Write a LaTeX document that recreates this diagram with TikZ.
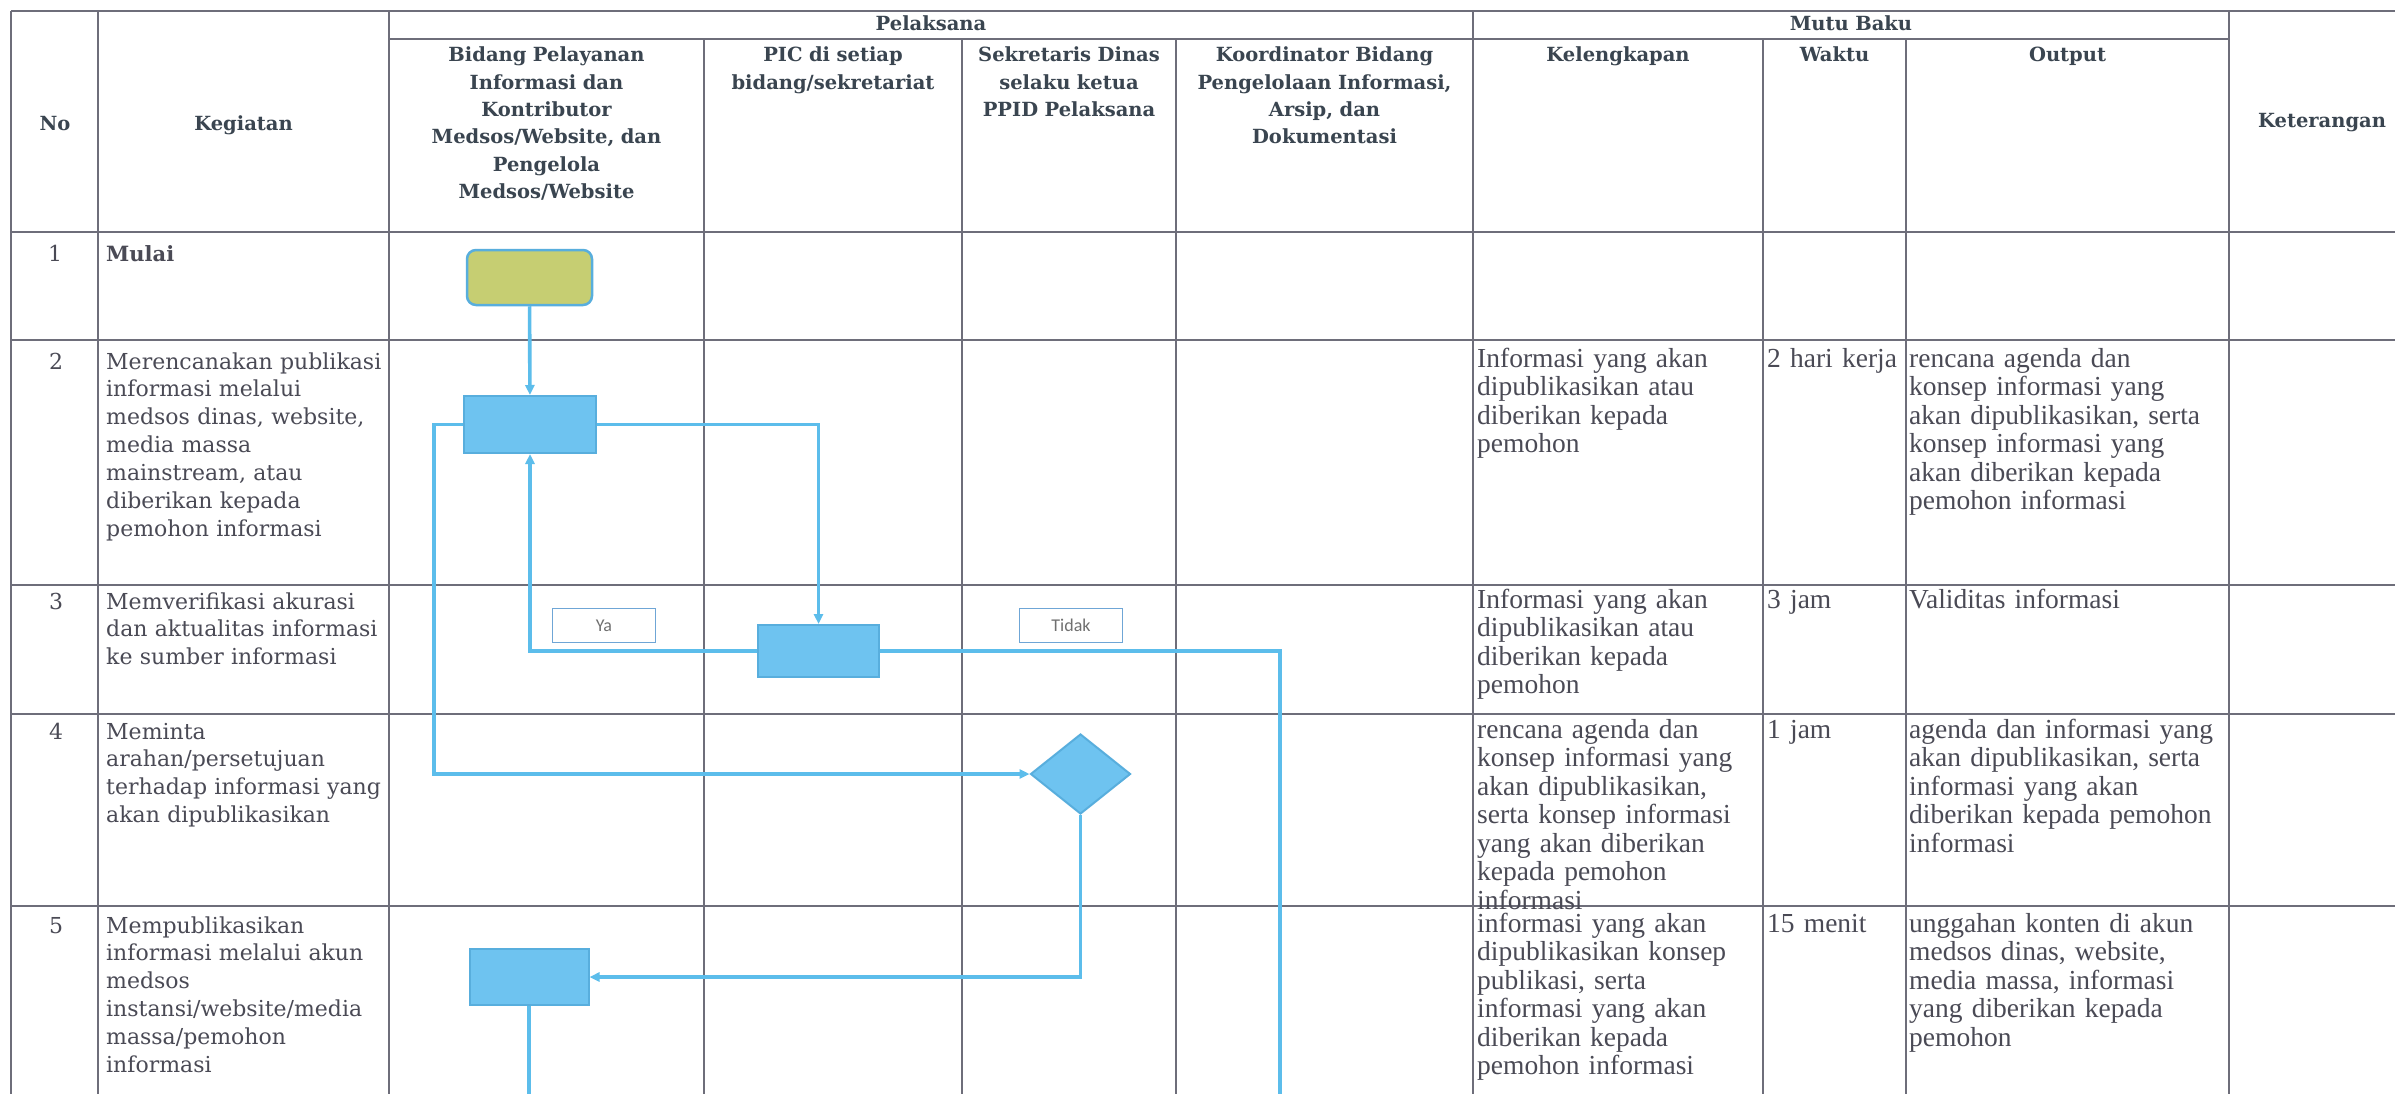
\documentclass[tikz,border=0pt]{standalone}
\usepackage{fontspec}
\setmainfont{DejaVu Serif}
\newfontfamily\mutufont{Liberation Serif}
\newfontfamily\lblfont{Carlito}
\usetikzlibrary{arrows.meta,shapes.geometric}
\definecolor{tline}{HTML}{6E6E7A}
\definecolor{txt}{HTML}{4A4A55}
\definecolor{htxt}{HTML}{3A4550}
\definecolor{flowc}{HTML}{5CBDEB}
\definecolor{boxfill}{HTML}{6EC3F0}
\definecolor{boxdraw}{HTML}{58AEDD}
\definecolor{startfill}{HTML}{C6CE72}
\definecolor{lblc}{HTML}{6FA6D6}
\definecolor{lbltxt}{HTML}{707070}
\begin{document}
\begin{tikzpicture}[x=1pt,y=-1pt,
  grid/.style={draw=tline,line width=1.6pt},
  hd/.style={font=\fontsize{19.5}{27.3}\selectfont\bfseries, text=htxt, inner sep=0pt, align=center, anchor=base, text width=#1},
  hd/.default=360pt,
  kg/.style={font=\fontsize{22}{27.9}\selectfont, text=txt, inner sep=0pt, align=left, anchor=base west, text width=420pt},
  num/.style={font=\fontsize{22}{27.9}\selectfont, text=txt, inner sep=0pt, anchor=base},
  mt/.style={font=\mutufont\fontsize{27.5}{28.5}\selectfont, text=txt, inner sep=0pt, align=left, anchor=base west, text width=420pt},
  proc/.style={draw=boxdraw, fill=boxfill, line width=2pt, inner sep=0pt},
  flow/.style={draw=flowc, line width=3.6pt},
  arr/.style={-{Triangle[length=10pt,width=9pt]}},
  lbl/.style={draw=lblc, fill=white, line width=1.8pt, font=\lblfont\fontsize{18}{20}\selectfont, text=lbltxt, inner sep=0pt, minimum width=103pt, minimum height=34pt}
]
\useasboundingbox (0,0) rectangle (2395,1094);
\fill[white] (0,0) rectangle (2395,1094);
\clip (0,0) rectangle (2395,1094);

% ---------- table grid ----------
\draw[grid] (11,11) -- (2395,11);
\draw[grid] (389,39) -- (2229,39);
\foreach \yy in {232,340,585,714,906} \draw[grid] (11,\yy) -- (2395,\yy);
\foreach \xx in {11,98,389,1473,2229} \draw[grid] (\xx,11) -- (\xx,1094);
\foreach \xx in {704,962,1176,1763,1906} \draw[grid] (\xx,39) -- (\xx,1094);

% ---------- header ----------
\node[hd] (hPel) at (931,31) {Pelaksana};
\node[hd] (hMutu) at (1851,31) {Mutu Baku};
\node[hd] (hNo) at (55,131) {No};
\node[hd] (hKeg) at (243.5,131) {Kegiatan};
\node[hd] (hKet) at (2322,128) {Keterangan};
\node[hd] (hBid) at (546.5,62) {Bidang Pelayanan\\Informasi dan\\Kontributor\\Medsos/Website, dan\\Pengelola\\Medsos/Website};
\node[hd] (hPIC) at (833,62) {PIC di setiap\\bidang/sekretariat};
\node[hd] (hSek) at (1069,62) {Sekretaris Dinas\\selaku ketua\\PPID Pelaksana};
\node[hd] (hKoo) at (1324.5,62) {Koordinator Bidang\\Pengelolaan Informasi,\\Arsip, dan\\Dokumentasi};
\node[hd] (hKel) at (1618,62) {Kelengkapan};
\node[hd] (hWak) at (1834.5,62) {Waktu};
\node[hd] (hOut) at (2067.5,62) {Output};

% ---------- rows: No + Kegiatan ----------
\node[num] (n1) at (55,261) {1};
\node[kg,font=\fontsize{21}{27.9}\selectfont\bfseries] (k1) at (106,261) {Mulai};
\node[num] (n2) at (56,369) {2};
\node[kg] (k2) at (106,369) {Merencanakan publikasi\\informasi melalui\\medsos dinas, website,\\media massa\\mainstream, atau\\diberikan kepada\\pemohon informasi};
\node[num] (n3) at (56,609) {3};
\node[kg] (k3) at (106,609) {Memverifikasi akurasi\\dan aktualitas informasi\\ke sumber informasi};
\node[num] (n4) at (56,739) {4};
\node[kg] (k4) at (106,739) {Meminta\\arahan/persetujuan\\terhadap informasi yang\\akan dipublikasikan};
\node[num] (n5) at (56,933) {5};
\node[kg] (k5) at (106,933) {Mempublikasikan\\informasi melalui akun\\medsos\\instansi/website/media\\massa/pemohon\\informasi};

% ---------- rows: Mutu Baku ----------
\node[mt] (kl2) at (1477,367) {Informasi yang akan\\dipublikasikan atau\\diberikan kepada\\pemohon};
\node[mt] (w2) at (1767,367) {2 hari kerja};
\node[mt] (o2) at (1909,367) {rencana agenda dan\\konsep informasi yang\\akan dipublikasikan, serta\\konsep informasi yang\\akan diberikan kepada\\pemohon informasi};
\node[mt] (kl3) at (1477,608) {Informasi yang akan\\dipublikasikan atau\\diberikan kepada\\pemohon};
\node[mt] (w3) at (1767,608) {3 jam};
\node[mt] (o3) at (1909,608) {Validitas informasi};
\node[mt] (kl4) at (1477,738) {rencana agenda dan\\konsep informasi yang\\akan dipublikasikan,\\serta konsep informasi\\yang akan diberikan\\kepada pemohon\\informasi};
\node[mt] (w4) at (1767,738) {1 jam};
\node[mt] (o4) at (1909,738) {agenda dan informasi yang\\akan dipublikasikan, serta\\informasi yang akan\\diberikan kepada pemohon\\informasi};
\node[mt] (kl5) at (1477,932) {informasi yang akan\\dipublikasikan konsep\\publikasi, serta\\informasi yang akan\\diberikan kepada\\pemohon informasi};
\node[mt] (w5) at (1767,932) {15 menit};
\node[mt] (o5) at (1909,932) {unggahan konten di akun\\medsos dinas, website,\\media massa, informasi\\yang diberikan kepada\\pemohon};

% ---------- flowchart shapes ----------
\node[draw=boxdraw, fill=startfill, line width=2.5pt, rounded corners=9pt, minimum width=125pt, minimum height=55pt, inner sep=0pt] (start) at (529.5,277.5) {};
\node[proc, minimum width=132pt, minimum height=57pt] (p1) at (530,424.5) {};
\node[proc, minimum width=121pt, minimum height=52pt] (p2) at (818.5,651) {};
\node[proc, shape=diamond, minimum width=100pt, minimum height=80pt] (dec) at (1080.5,774) {};
\node[proc, minimum width=119pt, minimum height=56pt] (p3) at (529,977) {};
\coordinate (endT) at (1280,1100);
\coordinate (end3) at (529,1100);

% ---------- connectors ----------
\draw[flow,arr] (start) -- (p1);
\draw[flow,arr] (p1.east) -| (p2.north);
\draw[flow,arr] (p1.west) -- ++(-29,0) |- (dec.west);
\draw[flow,arr] (p2.west) -| (p1.south);
\draw[flow] (p2.east) -| (endT);
\draw[flow,arr] (dec.south) |- (p3.east);
\draw[flow] (p3.south) -- (end3);

% ---------- labels ----------
\node[lbl] (lya) at (604,625.5) {Ya};
\node[lbl] (ltidak) at (1071,625.5) {Tidak};
\end{tikzpicture}
\end{document}
